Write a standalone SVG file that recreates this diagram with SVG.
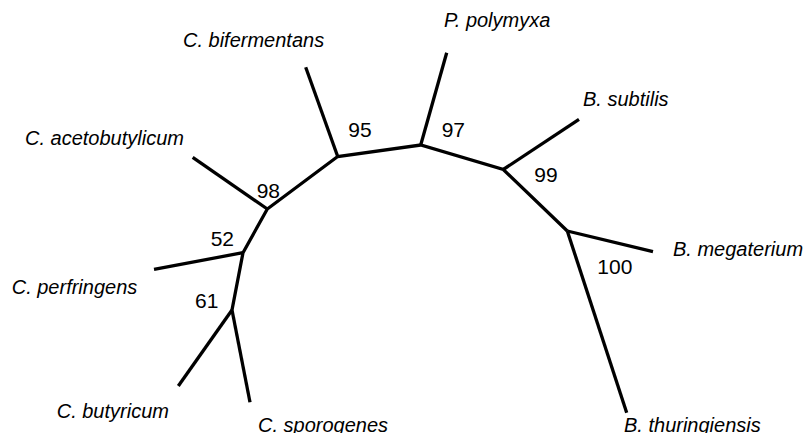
<svg xmlns="http://www.w3.org/2000/svg" width="807" height="433" viewBox="0 0 807 433">
  <style>
    .edge { stroke: #000; stroke-width: 3.3; stroke-linecap: butt; stroke-linejoin: miter; fill: none; }
    .taxon { font-family: "Liberation Sans", Arial, sans-serif; font-size: 20px; font-style: italic; fill: #000; }
    .boot { font-family: "Liberation Sans", Arial, sans-serif; font-size: 21px; fill: #000; }
  </style>
  <rect width="807" height="433" fill="#fff"/>

  <!-- tree branches -->
  <g id="connectors">
    <!-- internal backbone -->
    <polyline class="edge" points="232,310 243,252.7 267.3,209 337.7,156.5 420.7,145 503.3,169.5 567.3,231"/>
    <!-- terminal branches -->
    <line class="edge" x1="232" y1="310" x2="178.3" y2="386"/>
    <line class="edge" x1="232" y1="310" x2="250" y2="402.3"/>
    <line class="edge" x1="243" y1="252.7" x2="154" y2="269.3"/>
    <line class="edge" x1="267.3" y1="209" x2="192.7" y2="157.3"/>
    <line class="edge" x1="337.7" y1="156.5" x2="305.7" y2="67.3"/>
    <line class="edge" x1="420.7" y1="145" x2="446.7" y2="52.7"/>
    <line class="edge" x1="503.3" y1="169.5" x2="579" y2="119.3"/>
    <line class="edge" x1="567.3" y1="231" x2="653" y2="251.7"/>
    <line class="edge" x1="567.3" y1="231" x2="626.7" y2="412.7"/>
  </g>

  <!-- taxa -->
  <g id="c-acetobutylicum"><text class="taxon" x="25" y="145">C. acetobutylicum</text></g>
  <g id="c-bifermentans"><text class="taxon" x="183" y="46.7">C. bifermentans</text></g>
  <g id="p-polymyxa"><text class="taxon" x="444" y="27">P. polymyxa</text></g>
  <g id="b-subtilis"><text class="taxon" x="583" y="106">B. subtilis</text></g>
  <g id="b-megaterium"><text class="taxon" x="673" y="256">B. megaterium</text></g>
  <g id="c-perfringens"><text class="taxon" x="11.7" y="294">C. perfringens</text></g>
  <g id="c-butyricum"><text class="taxon" x="56.7" y="418.3">C. butyricum</text></g>
  <g id="c-sporogenes"><text class="taxon" x="258" y="432">C. sporogenes</text></g>
  <g id="b-thuringiensis"><text class="taxon" x="624" y="432">B. thuringiensis</text></g>

  <!-- bootstrap support values -->
  <g id="bootstrap">
    <text class="boot" x="348.3" y="137.3">95</text>
    <text class="boot" x="441.7" y="136.7">97</text>
    <text class="boot" x="534.3" y="182.3">99</text>
    <text class="boot" x="256.7" y="198.3">98</text>
    <text class="boot" x="210.7" y="246">52</text>
    <text class="boot" x="195" y="308.3">61</text>
    <text class="boot" x="597.3" y="274.3">100</text>
  </g>
</svg>
